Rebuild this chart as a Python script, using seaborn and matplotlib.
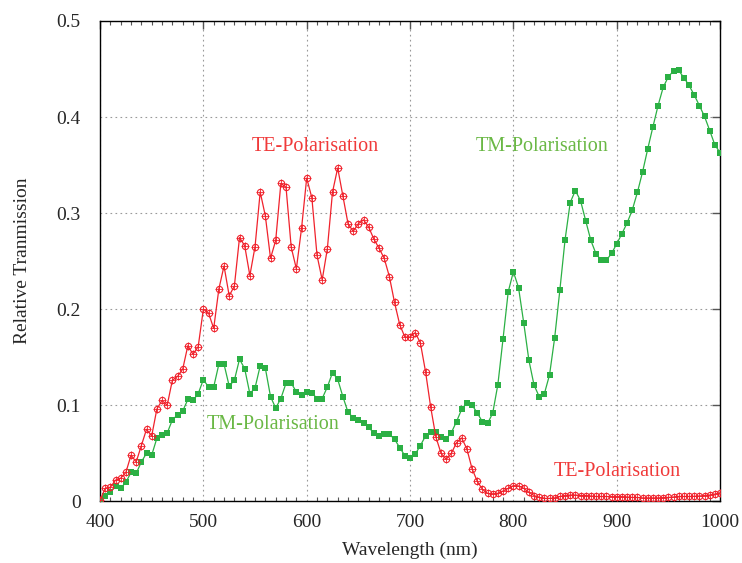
import matplotlib
matplotlib.use('Agg')
import matplotlib.pyplot as plt
import seaborn as sns
from matplotlib.ticker import MultipleLocator

# wavelength grid (nm)
wl = [400, 405, 410, 415, 420, 425, 430, 435, 440, 445, 450, 455, 460, 465, 470, 475,
      480, 485, 490, 495, 500, 505, 510, 515, 520, 525, 530, 535, 540, 545, 550, 555,
      560, 565, 570, 575, 580, 585, 590, 595, 600, 605, 610, 615, 620, 625, 630, 635,
      640, 645, 650, 655, 660, 665, 670, 675, 680, 685, 690, 695, 700, 705, 710, 715,
      720, 725, 730, 735, 740, 745, 750, 755, 760, 765, 770, 775, 780, 785, 790, 795,
      800, 805, 810, 815, 820, 825, 830, 835, 840, 845, 850, 855, 860, 865, 870, 875,
      880, 885, 890, 895, 900, 905, 910, 915, 920, 925, 930, 935, 940, 945, 950, 955,
      960, 965, 970, 975, 980, 985, 990, 995, 1000]

te = [0.001, 0.0135, 0.0146, 0.022, 0.024, 0.030, 0.048, 0.041, 0.058, 0.075, 0.068, 0.096,
      0.105, 0.100, 0.126, 0.130, 0.1375, 0.162, 0.153, 0.161, 0.200, 0.196, 0.180, 0.221,
      0.245, 0.214, 0.224, 0.2746, 0.266, 0.235, 0.265, 0.322, 0.297, 0.253, 0.2715, 0.331,
      0.327, 0.2646, 0.242, 0.284, 0.3365, 0.316, 0.256, 0.2305, 0.263, 0.322, 0.347, 0.318,
      0.289, 0.281, 0.289, 0.293, 0.2854, 0.273, 0.2635, 0.253, 0.234, 0.207, 0.184, 0.171,
      0.171, 0.1756, 0.165, 0.135, 0.098, 0.067, 0.050, 0.0437, 0.050, 0.061, 0.066, 0.0545,
      0.034, 0.021, 0.0125, 0.0083, 0.0076, 0.0083, 0.0107, 0.0135, 0.0163, 0.016, 0.0135,
      0.0094, 0.006, 0.004, 0.003, 0.003, 0.0035, 0.005, 0.006, 0.0065, 0.0065, 0.006, 0.006,
      0.0055, 0.005, 0.005, 0.005, 0.0048, 0.0048, 0.0048, 0.0045, 0.004, 0.004, 0.0035,
      0.0035, 0.0035, 0.0035, 0.0038, 0.004, 0.0045, 0.005, 0.005, 0.005, 0.0052, 0.0055,
      0.006, 0.0065, 0.0075, 0.0088]

tm = [0.0, 0.006, 0.0094, 0.016, 0.0135, 0.0198, 0.030, 0.029, 0.041, 0.050, 0.048, 0.0656,
      0.069, 0.071, 0.0847, 0.090, 0.094, 0.106, 0.105, 0.112, 0.1267, 0.119, 0.119, 0.1427,
      0.1427, 0.120, 0.126, 0.148, 0.138, 0.112, 0.118, 0.141, 0.1385, 0.109, 0.097, 0.107,
      0.123, 0.123, 0.114, 0.111, 0.114, 0.113, 0.107, 0.107, 0.119, 0.134, 0.127, 0.109,
      0.0927, 0.087, 0.0847, 0.082, 0.077, 0.071, 0.068, 0.070, 0.070, 0.0646, 0.056, 0.0475,
      0.0448, 0.049, 0.058, 0.068, 0.0725, 0.072, 0.067, 0.065, 0.0715, 0.083, 0.0958, 0.1027,
      0.1003, 0.092, 0.083, 0.081, 0.0917, 0.1215, 0.169, 0.218, 0.239, 0.2225, 0.186, 0.147,
      0.121, 0.109, 0.112, 0.1316, 0.1705, 0.220, 0.272, 0.311, 0.3235, 0.313, 0.292, 0.2715,
      0.2576, 0.251, 0.251, 0.258, 0.268, 0.2785, 0.2896, 0.303, 0.3215, 0.3427, 0.3667,
      0.3896, 0.4118, 0.431, 0.442, 0.448, 0.4485, 0.441, 0.433, 0.423, 0.412, 0.4006, 0.386,
      0.371, 0.363]

red = '#f0222c'
green = '#2bb044'

sns.set_style('white')
plt.rcParams['font.family'] = ['Liberation Serif', 'DejaVu Serif']

fig = plt.figure(figsize=(7.42, 5.63), dpi=100)
ax = fig.add_axes([0.1348, 0.1096, 0.8356, 0.8531])

sns.lineplot(x=wl, y=tm, ax=ax, color=green, linewidth=0.9, marker='s',
             markersize=4.6, markeredgewidth=0, markerfacecolor=green, zorder=3)
sns.lineplot(x=wl, y=te, ax=ax, color=red, linewidth=0.9, marker='o',
             markersize=4.5, markeredgewidth=0.8, markerfacecolor='none',
             markeredgecolor=red, zorder=4)
ax.plot(wl, te, linestyle='none', marker='+', markersize=5.5,
        markeredgewidth=0.6, color=red, zorder=4)

ax.set_xlim(400, 1000)
ax.set_ylim(0, 0.5)
ax.set_xticks([400, 500, 600, 700, 800, 900, 1000])
ax.set_yticks([0, 0.1, 0.2, 0.3, 0.4, 0.5])
ax.set_yticklabels(['0', '0.1', '0.2', '0.3', '0.4', '0.5'])
ax.xaxis.set_minor_locator(MultipleLocator(10))

ax.tick_params(which='major', direction='in', length=6, width=1, labelsize=14,
               top=True, right=True, pad=9, color='#555555')
ax.tick_params(which='minor', direction='in', length=3, width=0.8,
               top=True, bottom=True, color='#555555')
ax.tick_params(axis='y', pad=14)

ax.grid(True, which='major', linestyle=(0, (1.5, 3)), color='#999999', linewidth=0.8)
for s in ax.spines.values():
    s.set_color('black')
    s.set_linewidth(1.0)

ax.set_xlabel('Wavelength (nm)', fontsize=14, labelpad=8)
ax.set_ylabel('Relative Tranmission', fontsize=14, labelpad=18)

ax.text(608, 0.369, 'TE-Polarisation', color='#f03a3a', fontsize=14.5, ha='center', va='center')
ax.text(828, 0.369, 'TM-Polarisation', color='#6ab845', fontsize=14.5, ha='center', va='center')
ax.text(567, 0.0795, 'TM-Polarisation', color='#6ab845', fontsize=14.5, ha='center', va='center')
ax.text(901, 0.0305, 'TE-Polarisation', color='#f03a3a', fontsize=14.5, ha='center', va='center')

plt.savefig('out.png', dpi=100)
